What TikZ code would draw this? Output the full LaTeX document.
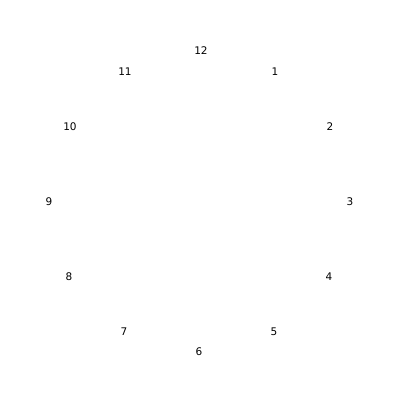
\documentclass[tikz,border=0pt]{standalone}
\usepackage{fontspec}
\setmainfont{DejaVu Sans}
\begin{document}
\begin{tikzpicture}[x=1pt,y=-1pt,num/.style={font=\fontsize{10.5}{12}\selectfont,inner sep=0pt}]
\useasboundingbox[fill=white] (0,0) rectangle (400,400);
\node[num] (n12) at (201,50.5) {12};
\node[num] (n1) at (275,71.5) {1};
\node[num] (n2) at (330,126.5) {2};
\node[num] (n3) at (350,201.5) {3};
\node[num] (n4) at (329,276.5) {4};
\node[num] (n5) at (274,331.5) {5};
\node[num] (n6) at (199,351.5) {6};
\node[num] (n7) at (124,331.5) {7};
\node[num] (n8) at (69,276.5) {8};
\node[num] (n9) at (49,201.5) {9};
\node[num] (n10) at (70,126.5) {10};
\node[num] (n11) at (125,71.5) {11};
\end{tikzpicture}
\end{document}
